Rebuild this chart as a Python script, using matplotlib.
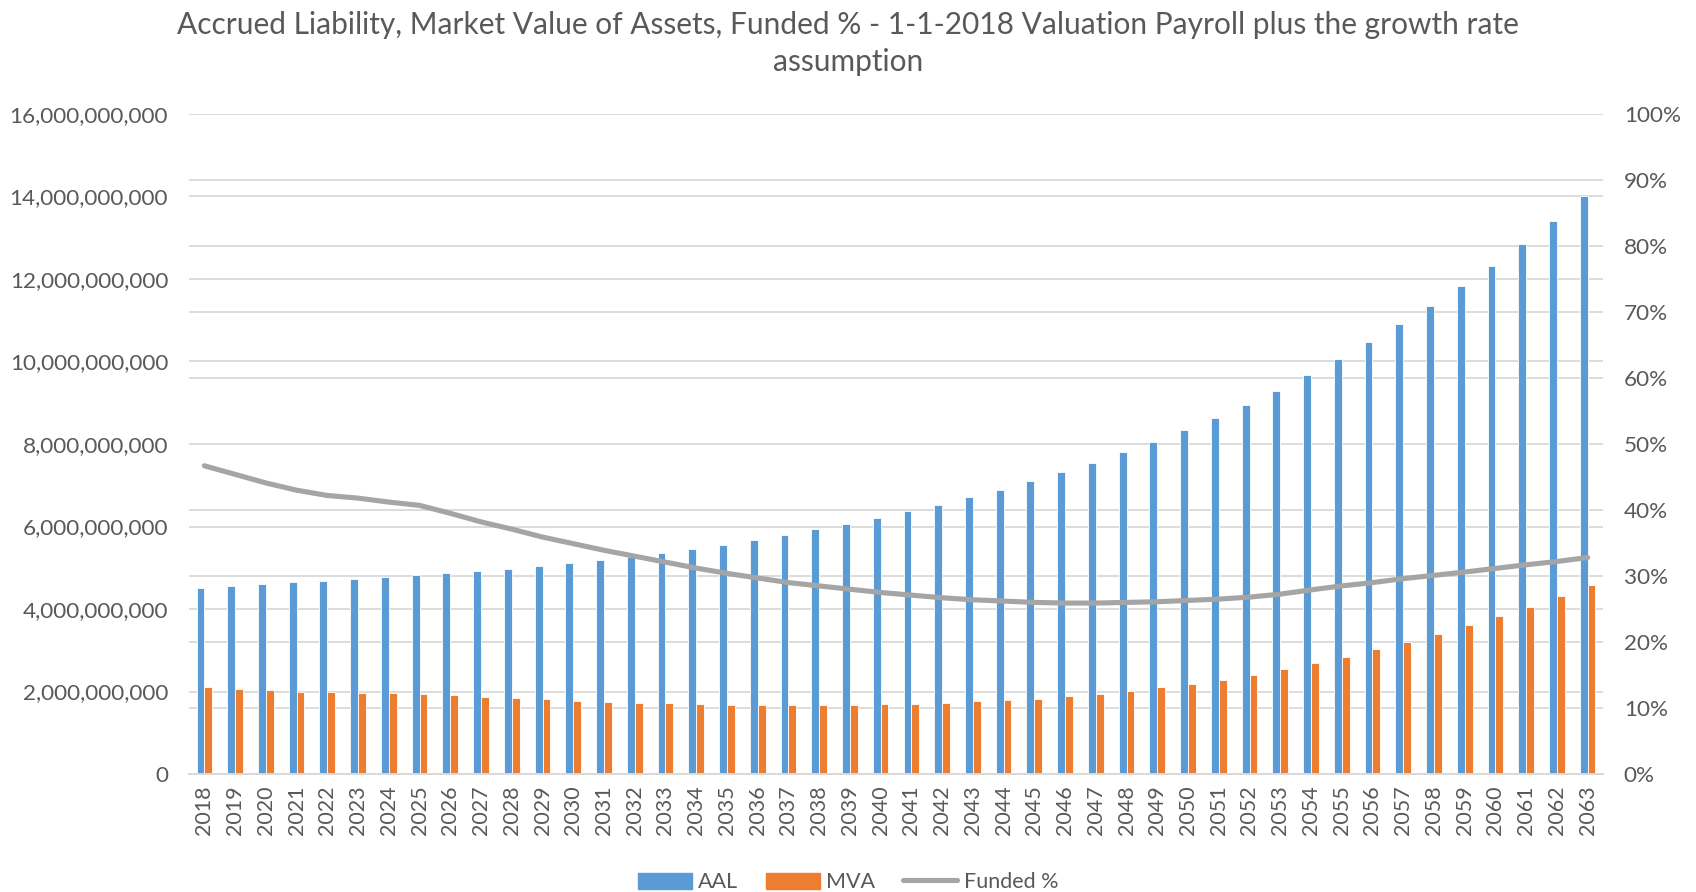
import matplotlib.pyplot as plt
import numpy as np
from matplotlib.patches import Patch
from matplotlib.lines import Line2D
from matplotlib.ticker import FuncFormatter, MultipleLocator

# years on the category axis
years = list(range(2018, 2064))

# Accrued liability (AAL), billions
aal = [4.50, 4.56, 4.61, 4.66, 4.69, 4.73, 4.77, 4.82, 4.87, 4.93,
       4.98, 5.05, 5.11, 5.19, 5.26, 5.36, 5.46, 5.56, 5.68, 5.79,
       5.93, 6.07, 6.21, 6.37, 6.53, 6.71, 6.89, 7.10, 7.31, 7.55,
       7.80, 8.06, 8.34, 8.62, 8.94, 9.29, 9.67, 10.06, 10.47, 10.90,
       11.35, 11.83, 12.32, 12.84, 13.40, 14.00]

# Market value of assets (MVA), billions
mva = [2.10, 2.07, 2.03, 1.99, 1.98, 1.97, 1.96, 1.94, 1.91, 1.87,
       1.84, 1.81, 1.78, 1.75, 1.73, 1.71, 1.69, 1.68, 1.67, 1.67,
       1.67, 1.68, 1.69, 1.70, 1.73, 1.76, 1.79, 1.83, 1.89, 1.94,
       2.02, 2.10, 2.19, 2.28, 2.40, 2.54, 2.68, 2.84, 3.02, 3.21,
       3.39, 3.61, 3.83, 4.06, 4.32, 4.59]

# Funded %, in percent
funded = [46.7, 45.4, 44.1, 43.0, 42.2, 41.8, 41.2, 40.7, 39.5, 38.2,
          37.1, 35.9, 34.9, 33.9, 33.0, 32.1, 31.2, 30.4, 29.7, 29.0,
          28.5, 28.0, 27.5, 27.1, 26.7, 26.4, 26.2, 26.0, 25.9, 25.9,
          26.0, 26.1, 26.3, 26.5, 26.8, 27.25, 27.9, 28.5, 29.0, 29.6,
          30.1, 30.6, 31.15, 31.7, 32.2, 32.8]

AZUL = "#5B9BD5"
NARANJA = "#ED7D31"
GRIS = "#A5A5A5"
TEXTO = "#595959"
REJILLA = "#D9D9D9"

plt.rcParams['font.family'] = ['Lato', 'DejaVu Sans']

fig = plt.figure(figsize=(16.96, 8.92), dpi=100)
ax = fig.add_axes([189/1696, 1-774/892, (1603-189)/1696, (774-114)/892])
ax2 = ax.twinx()

x = np.arange(len(years))
ancho = 0.255
aal_v = np.array(aal) * 1e9
mva_v = np.array(mva) * 1e9
ax.bar(x - ancho/2, aal_v, width=ancho, color=AZUL, edgecolor="white", linewidth=0.6, zorder=2)
ax.bar(x + ancho/2, mva_v, width=ancho, color=NARANJA, edgecolor="white", linewidth=0.6, zorder=2)

ax2.plot(x, np.array(funded) / 100, color=GRIS, linewidth=3.7, solid_capstyle="round", zorder=3)

# left axis
ax.set_ylim(0, 16e9)
ax.yaxis.set_major_locator(MultipleLocator(2e9))
ax.yaxis.set_minor_locator(MultipleLocator(1.6e9))  # right-axis 10% gridlines
ax.yaxis.set_major_formatter(FuncFormatter(lambda v, p: f"{v:,.0f}"))
ax.grid(axis="y", which="both", color=REJILLA, linewidth=1.3, zorder=0)
ax.set_axisbelow(True)
ax.tick_params(axis="y", which="both", length=0, labelsize=16.2, labelcolor=TEXTO, pad=15)

ax.set_xlim(-0.5, len(years) - 0.5)
ax.set_xticks(x)
ax.set_xticklabels([str(a) for a in years], rotation=90)
ax.tick_params(axis="x", length=0, labelsize=15.5, labelcolor=TEXTO, pad=8)

# right axis
ax2.set_ylim(0, 1)
ax2.yaxis.set_major_locator(MultipleLocator(0.1))
ax2.yaxis.set_major_formatter(FuncFormatter(lambda v, p: f"{v*100:.0f}%"))
ax2.tick_params(axis="y", length=0, labelsize=16.2, labelcolor=TEXTO, pad=15)

for a in (ax, ax2):
    for s in ("top", "left", "right"):
        a.spines[s].set_visible(False)
    a.spines["bottom"].set_color(REJILLA)
    a.spines["bottom"].set_linewidth(1.3)

fig.suptitle("Accrued Liability, Market Value of Assets, Funded % - 1-1-2018 Valuation Payroll plus the growth rate\nassumption",
             y=0.988, fontsize=21.5, color=TEXTO, linespacing=1.4)

manijas = [Patch(color=AZUL), Patch(color=NARANJA), Line2D([0], [0], color=GRIS, linewidth=3.7, solid_capstyle="round")]
fig.legend(manijas, ["AAL", "MVA", "Funded %"], loc="lower center", bbox_to_anchor=(0.5, -0.022),
           ncol=3, frameon=False, fontsize=15.5, labelcolor=TEXTO, handlelength=2.5, handleheight=0.8,
           handletextpad=0.3, columnspacing=1.3)

fig.savefig("out.png", dpi=100, facecolor="white")
